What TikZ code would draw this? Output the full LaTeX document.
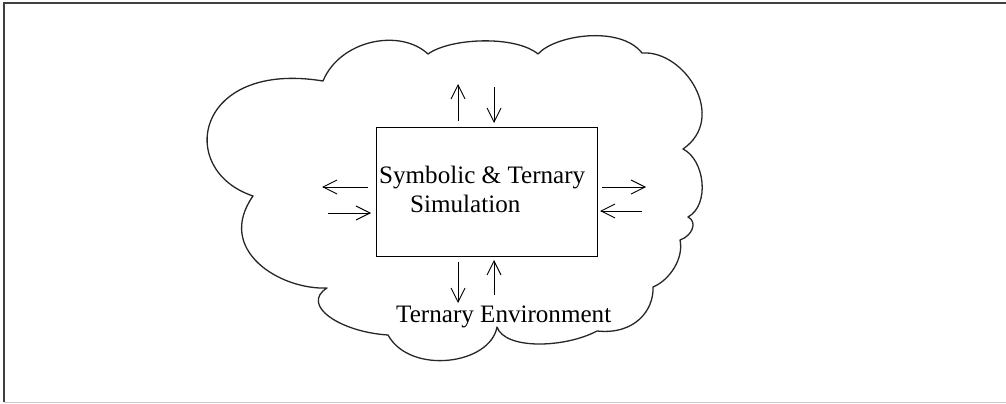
\documentclass[tikz,border=0pt]{standalone}
\usepackage{fontspec}
\setmainfont{Liberation Serif}
\usetikzlibrary{arrows.meta}
\begin{document}
\begin{tikzpicture}[x=1pt,y=-1pt,
  cloudline/.style={line width=1.3pt, draw=black!85, line join=round},
  arr/.style={line width=0.9pt, -{Straight Barb[length=14pt,width=14pt]}},
  lbl/.style={font=\fontsize{25.1}{30}\selectfont, inner sep=0pt, anchor=base west}]
\useasboundingbox (0,0) rectangle (1006,404);
% frame
\draw[black!75, line width=1.5pt] (4,402) -- (4,3) -- (1006,3);
\draw[black!20, line width=1pt] (4,402.5) -- (1006,402.5);
% cloud
\draw[cloudline] (323,81)
 .. controls (340,40) and (400,28) .. (428,54)
 .. controls (450,38) and (515,35) .. (538,54)
 .. controls (555,35) and (620,25) .. (642,53)
 .. controls (685,50) and (728,118) .. (683,149)
 .. controls (705,160) and (710,205) .. (688,217)
 .. controls (698,222) and (692,236) .. (680,240)
 .. controls (684,258) and (670,280) .. (653,287)
 .. controls (654,310) and (635,335) .. (597,331)
 .. controls (565,348) and (505,350) .. (497,327)
 .. controls (490,365) and (410,375) .. (388,335)
 .. controls (340,332) and (300,305) .. (327,288)
 .. controls (280,290) and (215,250) .. (253,196)
 .. controls (175,170) and (195,60) .. (323,81) -- cycle;
% box
\node[draw, line width=1pt, minimum width=221pt, minimum height=129pt, inner sep=0pt] (sim) at (486.5,191.5) {};
\node[lbl] (t1) at (379,183) {Symbolic \& Ternary};
\node[lbl] (t2) at (410,212) {Simulation};
\node[lbl] (env) at (396,322) {Ternary Environment};
% arrow end points
\coordinate (a1s) at (458,121); \coordinate (a1e) at (458,84);
\coordinate (a2s) at (494,87);  \coordinate (a2e) at (494,123);
\coordinate (a3s) at (368,187); \coordinate (a3e) at (322,187);
\coordinate (a4s) at (328,213); \coordinate (a4e) at (371,213);
\coordinate (a5s) at (602,187); \coordinate (a5e) at (646,187);
\coordinate (a6s) at (642,211); \coordinate (a6e) at (600,211);
\coordinate (a7s) at (458,262); \coordinate (a7e) at (458,303);
\coordinate (a8s) at (494,295); \coordinate (a8e) at (494,260);
\foreach \i in {1,...,8} \draw[arr] (a\i s) -- (a\i e);
\end{tikzpicture}
\end{document}
